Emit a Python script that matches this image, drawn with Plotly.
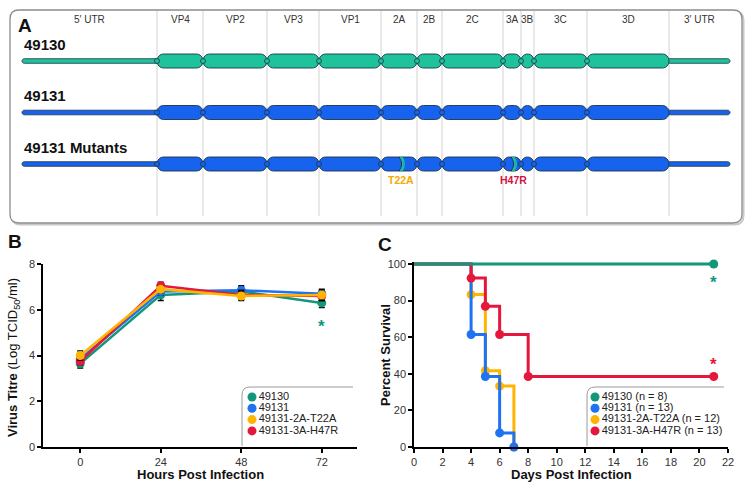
import plotly.graph_objects as go

# ---------- panel A: genome map (schematic map units) ----------
regions = ["5′ UTR", "VP4", "VP2", "VP3", "VP1", "2A", "2B", "2C", "3A", "3B", "3C", "3D", "3′ UTR"]
bounds = [0, 135, 181, 245, 297, 359, 395, 420, 481, 499, 512, 565, 647, 708]
genomes = ["49130", "49131", "49131 Mutants"]
genome_colors = ["#1ec39b", "#1763ee", "#1763ee"]
mutations = ["T22A", "H47R"]
mutation_pos = [378, 490]
mutation_colors = ["#f5aa00", "#d3123f"]

# ---------- panel B: growth curves ----------
hours = [0, 24, 48, 72]
strains = ["49130", "49131", "49131-2A-T22A", "49131-3A-H47R"]
colors = ["#11977a", "#1f72f0", "#ffb400", "#e5173d"]
titre_49130 = [3.65, 6.65, 6.8, 6.3]
titre_49131 = [3.85, 6.8, 6.85, 6.7]
titre_t22a = [4.0, 6.9, 6.6, 6.65]
titre_h47r = [3.75, 7.05, 6.65, 6.6]
err_49130 = [0.2, 0.25, 0.2, 0.2]
err_49131 = [0.2, 0.15, 0.2, 0.15]
err_t22a = [0.2, 0.15, 0.2, 0.25]
err_h47r = [0.15, 0.15, 0.2, 0.2]

# ---------- panel C: survival ----------
days_49130 = [0, 21]
surv_49130 = [100, 100]
days_49131 = [0, 4, 5, 6, 7]
surv_49131 = [100, 61.5, 38.5, 7.7, 0]
days_t22a = [0, 4, 5, 6, 7]
surv_t22a = [100, 83.3, 41.7, 33.3, 0]
days_h47r = [0, 4, 5, 6, 8, 21]
surv_h47r = [100, 92.3, 76.9, 61.5, 38.5, 38.5]
n_mice = [8, 13, 12, 13]


W, H = 750, 485
def px(x):
    return x / W
def py(y):
    return 1 - y / H

ROW_PX = 51.5  # pixels per genome row unit on y3


def capsule(x0, x1, yc, rx, hy):
    r = min(rx, (x1 - x0) / 2)
    k = 0.5523
    t, b = yc - hy, yc + hy
    p = [("M", x0 + r, t), ("L", x1 - r, t),
         ("C", x1 - r + k * r, t, x1, yc - k * hy, x1, yc),
         ("C", x1, yc + k * hy, x1 - r + k * r, b, x1 - r, b),
         ("L", x0 + r, b),
         ("C", x0 + r - k * r, b, x0, yc + k * hy, x0, yc),
         ("C", x0, yc - k * hy, x0 + r - k * r, t, x0 + r, t)]
    s = ""
    for seg in p:
        vals = seg[1:]
        s += seg[0] + " " + " ".join(f"{vals[i]:.3f},{vals[i+1]:.4f}" for i in range(0, len(vals), 2)) + " "
    return s + "Z"


def note(text, x, y, size, color="#111", xref="paper", yref="paper", **kw):
    d = dict(text=text, x=x, y=y, xref=xref, yref=yref, showarrow=False,
             xanchor="center", yanchor="middle", font=dict(size=size, color=color))
    d.update(kw)
    return d


fig = go.Figure()
shapes = []
annotations = []

# panel A frame (with a faint shadow on the bottom/right)
def frame_path(x0, y0, x1, y1, r):
    pts = f"M {px(x0+r)},{py(y0)} L {px(x1-r)},{py(y0)} Q {px(x1)},{py(y0)} {px(x1)},{py(y0+r)} " \
          f"L {px(x1)},{py(y1-r)} Q {px(x1)},{py(y1)} {px(x1-r)},{py(y1)} " \
          f"L {px(x0+r)},{py(y1)} Q {px(x0)},{py(y1)} {px(x0)},{py(y1-r)} " \
          f"L {px(x0)},{py(y0+r)} Q {px(x0)},{py(y0)} {px(x0+r)},{py(y0)} Z"
    return pts

shapes.append(dict(type="path", xref="paper", yref="paper", path=frame_path(11.5, 11.5, 743.5, 224.5, 9),
                   line=dict(color="#c8c8c8", width=2), layer="below"))
shapes.append(dict(type="path", xref="paper", yref="paper", path=frame_path(10, 10, 742, 223, 9),
                   line=dict(color="#8c8c8c", width=1.3), fillcolor="white", layer="below"))

# region separators and labels
for b in bounds[1:-1]:
    shapes.append(dict(type="line", xref="x3", yref="paper", x0=b, x1=b, y0=py(216), y1=py(11),
                       line=dict(color="#d2d2d2", width=1), layer="below"))
for i, name in enumerate(regions):
    annotations.append(note(name, (bounds[i] + bounds[i + 1]) / 2, py(20), 10, "#333", xref="x3"))
    annotations[-1]["font"]["family"] = "Liberation Sans Narrow, Liberation Sans"

hy_seg = 7 / ROW_PX
hy_utr = 2.3 / ROW_PX
for row, (g, col) in enumerate(zip(genomes, genome_colors)):
    edge = "#1c3447"
    # UTRs
    shapes.append(dict(type="path", xref="x3", yref="y3", path=capsule(bounds[0], bounds[1] + 2, row, 2.3, hy_utr),
                       fillcolor=col, line=dict(color=edge, width=0.8), layer="below"))
    shapes.append(dict(type="path", xref="x3", yref="y3", path=capsule(bounds[-2] - 2, bounds[-1], row, 2.3, hy_utr),
                       fillcolor=col, line=dict(color=edge, width=0.8), layer="below"))
    # coding regions
    for i in range(1, len(regions) - 1):
        shapes.append(dict(type="path", xref="x3", yref="y3",
                           path=capsule(bounds[i], bounds[i + 1], row, 6.5, hy_seg),
                           fillcolor=col, line=dict(color=edge, width=0.9), layer="below"))
    fig.add_trace(go.Scatter(x=bounds[1:-2], y=[row] * len(bounds[1:-2]), mode="markers",
                             marker=dict(size=5, color=col, line=dict(color=edge, width=0.8)),
                             xaxis="x3", yaxis="y3", showlegend=False, hoverinfo="skip"))
    annotations.append(note(f"<b>{g}</b>", 0, row - 0.33, 15, xref="x3", yref="y3", xanchor="left"))

# mutations on the mutant row
mut_row = 2
for m, pos, col in zip(mutations, mutation_pos, mutation_colors):
    for dx, c, w in [(-0.8, "#1c3447", 1.0), (0.4, "#1ec39b", 1.3), (1.8, "#1ec39b", 1.3)]:
        x = pos + dx
        shapes.append(dict(type="path", xref="x3", yref="y3",
                           path=f"M {x},{mut_row - hy_seg} Q {x + 5},{mut_row} {x},{mut_row + hy_seg}",
                           line=dict(color=c, width=w)))
    annotations.append(note(f"<b>{m}</b>", pos + 1, mut_row + 16 / ROW_PX, 10.5, col, xref="x3", yref="y3"))

# ---------- panel B traces ----------
titres = [titre_49130, titre_49131, titre_t22a, titre_h47r]
errs = [err_49130, err_49131, err_t22a, err_h47r]
for i in [0, 1, 3, 2]:
    fig.add_trace(go.Scatter(x=hours, y=titres[i], mode="lines+markers", name=strains[i],
                             line=dict(color=colors[i], width=2.5),
                             marker=dict(size=9, color=colors[i]),
                             error_y=dict(type="data", array=errs[i], color="black", thickness=1.5, width=3),
                             xaxis="x", yaxis="y", showlegend=False, cliponaxis=False))
annotations.append(note("<b>*</b>", 72, 5.45, 17, colors[0], xref="x", yref="y", yshift=-4))

# ---------- panel C traces ----------
days = [days_49130, days_49131, days_t22a, days_h47r]
survs = [surv_49130, surv_49131, surv_t22a, surv_h47r]
for i in [2, 1, 3, 0]:
    fig.add_trace(go.Scatter(x=days[i], y=survs[i], mode="lines",
                             line=dict(color=colors[i], width=3.2 if i == 0 else 3, shape="hv"),
                             xaxis="x2", yaxis="y2", showlegend=False, cliponaxis=False, hoverinfo="skip"))
    fig.add_trace(go.Scatter(x=days[i][1:], y=survs[i][1:], mode="markers", name=strains[i],
                             marker=dict(size=9, color=colors[i]),
                             xaxis="x2", yaxis="y2", showlegend=False, cliponaxis=False))
annotations.append(note("<b>*</b>", 21, 92, 17, colors[0], xref="x2", yref="y2", yshift=-4))
annotations.append(note("<b>*</b>", 21, 47.5, 17, colors[3], xref="x2", yref="y2", yshift=-4))

# ---------- legends (drawn as small scatter panels) ----------
fig.add_trace(go.Scatter(x=[0] * 4, y=list(range(4)), mode="markers+text", text=strains,
                         textposition="middle right", textfont=dict(size=11, color="#222"),
                         marker=dict(size=9, color=colors), xaxis="x4", yaxis="y4",
                         showlegend=False, cliponaxis=False, hoverinfo="skip"))
legend_c = [f"{s} (n = {n})" for s, n in zip(strains, n_mice)]
fig.add_trace(go.Scatter(x=[0] * 4, y=list(range(4)), mode="markers+text", text=legend_c,
                         textposition="middle right", textfont=dict(size=11, color="#222"),
                         marker=dict(size=9, color=colors), xaxis="x5", yaxis="y5",
                         showlegend=False, cliponaxis=False, hoverinfo="skip"))

for x0, x1 in [(242, 353), (587, 724)]:
    r = 8
    shapes.append(dict(type="path", xref="paper", yref="paper",
                       path=f"M {px(x0)},{py(446)} L {px(x0)},{py(387 + r)} Q {px(x0)},{py(387)} {px(x0 + r)},{py(387)} L {px(x1)},{py(387)}",
                       line=dict(color="#9a9a9a", width=1)))

# panel letters and axis titles
for t, x, y in [("A", 25, 25), ("B", 15, 241), ("C", 385, 244)]:
    annotations.append(note(f"<b>{t}</b>", px(x), py(y), 19))
annotations += [
    note("<b>Virus Titre</b> (Log TCID<sub>50</sub>/ml)", px(13), py(358), 13, textangle=-90),
    note("<b>Hours Post Infection</b>", px(200), py(474), 13),
    note("<b>Percent Survival</b>", px(385), py(355), 13, textangle=-90),
    note("<b>Days Post Infection</b>", px(571), py(474), 13),
]

axis_style = dict(showgrid=False, zeroline=False, showline=True, linecolor="black", linewidth=1.5,
                  ticks="outside", ticklen=4, tickwidth=1.5, tickcolor="black",
                  tickfont=dict(size=11, color="#333"), automargin=False, fixedrange=True)
hidden = dict(visible=False, fixedrange=True)

fig.update_layout(
    width=W, height=H, margin=dict(l=0, r=0, t=0, b=0), autosize=False,
    paper_bgcolor="white", plot_bgcolor="rgba(0,0,0,0)",
    font=dict(family="Liberation Sans, Arial, sans-serif", color="#222"),
    xaxis=dict(domain=[px(43), px(357)], range=[-11.1, 82.5], tickvals=hours, anchor="y", **axis_style),
    yaxis=dict(domain=[py(447), py(264)], range=[0, 8], dtick=2, anchor="x", **axis_style),
    xaxis2=dict(domain=[px(414), px(728)], range=[0, 22], dtick=2, anchor="y2", **axis_style),
    # a little headroom above 100 so the 100 % line is not clipped
    yaxis2=dict(domain=[py(447), py(447 - 101.2 * 1.83)], range=[0, 101.2], tickvals=[0, 20, 40, 60, 80, 100],
                anchor="x2", **axis_style),
    xaxis3=dict(domain=[0, 1], range=[-22, 728], anchor="y3", **hidden),
    yaxis3=dict(domain=[py(223), py(10)], range=[(223 - 61) / ROW_PX, (10 - 61) / ROW_PX], anchor="x3", **hidden),
    xaxis4=dict(domain=[px(246), px(352)], range=[-6, 100], anchor="y4", **hidden),
    yaxis4=dict(domain=[py(437), py(391)], range=[(437 - 397) / 11.3, (391 - 397) / 11.3], anchor="x4", **hidden),
    xaxis5=dict(domain=[px(589), px(725)], range=[-6, 130], anchor="y5", **hidden),
    yaxis5=dict(domain=[py(437), py(391)], range=[(437 - 397) / 11.3, (391 - 397) / 11.3], anchor="x5", **hidden),
    shapes=shapes, annotations=annotations, showlegend=False,
)

fig.write_html("out.html", config={"displayModeBar": False},
               post_script="document.body.style.margin='0';")
